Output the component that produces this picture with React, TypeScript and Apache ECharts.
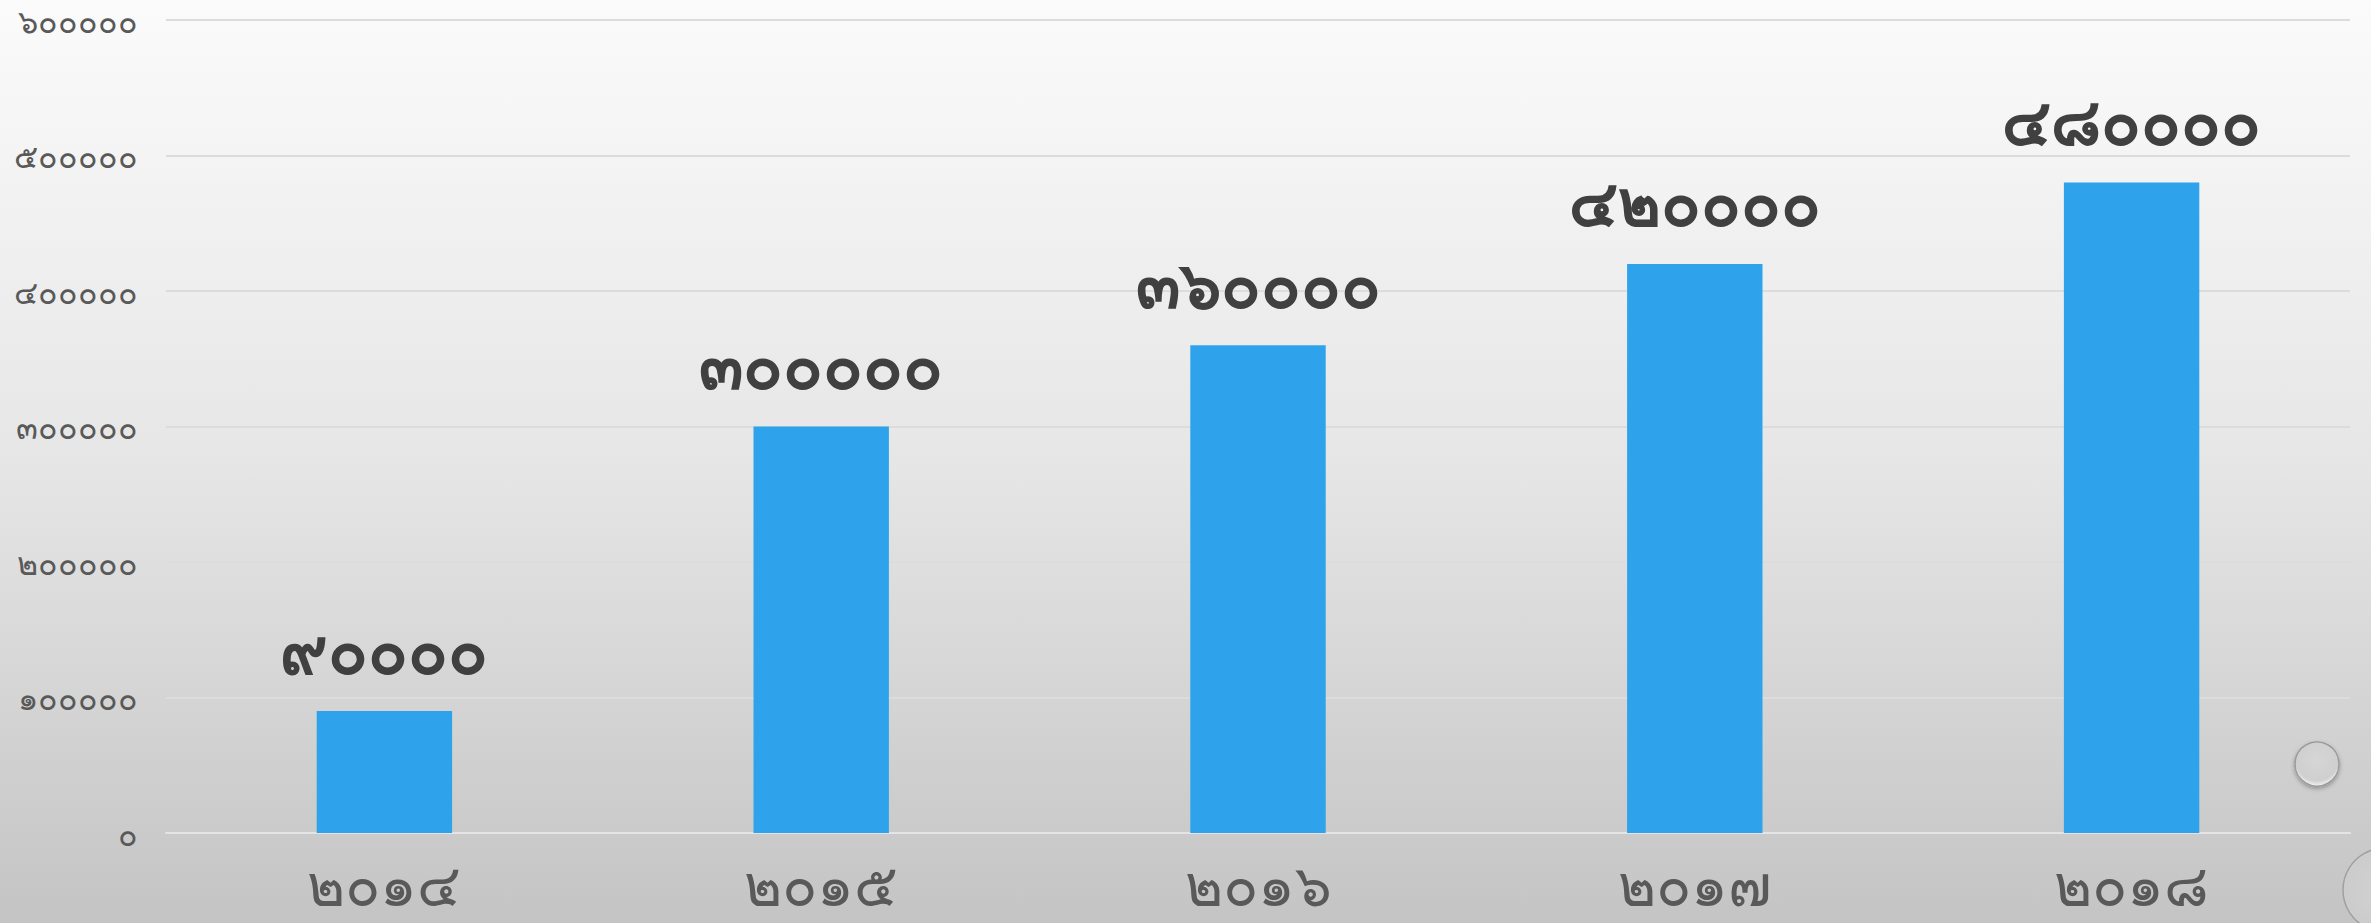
import React, { useEffect, useRef } from "react";
import * as echarts from "echarts";

const categories = ["2014", "2015", "2016", "2017", "2018"];
const values = [90000, 300000, 360000, 420000, 480000];
const yTicks = [0, 100000, 200000, 300000, 400000, 500000, 600000];

const thaiDigits = ["๐", "๑", "๒", "๓", "๔", "๕", "๖", "๗", "๘", "๙"];
const toThai = (v: string | number) =>
  String(v).replace(/[0-9]/g, (d) => thaiDigits[Number(d)]);

export default function App() {
  const ref = useRef<HTMLDivElement>(null);
  useEffect(() => {
    document.body.style.margin = "0";
    const chart = echarts.init(ref.current!, null, { renderer: "svg" });
    chart.setOption({
      animation: false,
      backgroundColor: {
        type: "linear",
        x: 0,
        y: 0,
        x2: 0,
        y2: 1,
        colorStops: [
          { offset: 0, color: "#fbfbfb" },
          { offset: 0.5, color: "#e6e6e6" },
          { offset: 1, color: "#c4c4c4" },
        ],
      },
      textStyle: { fontFamily: "Noto Sans, DejaVu Sans, sans-serif" },
      grid: { left: 166, right: 21, top: 20, bottom: 90 },
      xAxis: {
        type: "category",
        data: categories,
        axisLine: { show: true, lineStyle: { color: "#e4e4e4", width: 2 } },
        axisTick: { show: false },
        axisLabel: {
          formatter: (v: string) => toThai(v),
          color: "#595959",
          fontSize: 58,
          fontWeight: 500,
          margin: 24,
          lineHeight: 52,
        },
      },
      yAxis: {
        type: "value",
        min: 0,
        max: 600000,
        interval: 100000,
        axisLine: { show: false },
        axisTick: { show: false },
        splitLine: { lineStyle: { color: "#dcdcdc", width: 2 } },
        axisLabel: {
          formatter: (v: number) => (yTicks.includes(v) ? toThai(v) : ""),
          color: "#595959",
          fontSize: 32,
          lineHeight: 34,
          margin: 28,
        },
      },
      series: [
        {
          type: "bar",
          data: values,
          barWidth: "31%",
          itemStyle: { color: "#2ea3ec" },
          label: {
            show: true,
            position: "top",
            distance: 30,
            formatter: (p: any) => toThai(p.value),
            color: "#404040",
            fontSize: 65,
            fontWeight: "bold",
          },
        },
      ],
      graphic: [
        {
          type: "circle",
          shape: { cx: 2317, cy: 764, r: 22 },
          style: {
            fill: {
              type: "radial",
              x: 0.5,
              y: 0.4,
              r: 0.6,
              colorStops: [
                { offset: 0, color: "#d6d6d6" },
                { offset: 0.8, color: "#cfcfcf" },
                { offset: 1, color: "#f4f4f4" },
              ],
            } as any,
            stroke: "#9a9a9a",
            lineWidth: 1.5,
            shadowBlur: 4,
            shadowColor: "rgba(0,0,0,0.3)",
            shadowOffsetY: 2,
          },
        },
        {
          type: "circle",
          shape: { cx: 2385, cy: 890, r: 42 },
          style: {
            fill: {
              type: "radial",
              x: 0.5,
              y: 0.5,
              r: 0.6,
              colorStops: [
                { offset: 0, color: "#d2d2d2" },
                { offset: 0.8, color: "#cccccc" },
                { offset: 1, color: "#f5f5f5" },
              ],
            } as any,
            stroke: "#a0a0a0",
            lineWidth: 1.5,
          },
        },
      ],
    });
    return () => chart.dispose();
  }, []);
  return (
    <div
      ref={ref}
      style={{ position: "fixed", left: 0, top: 0, width: 2371, height: 923 }}
    />
  );
}
